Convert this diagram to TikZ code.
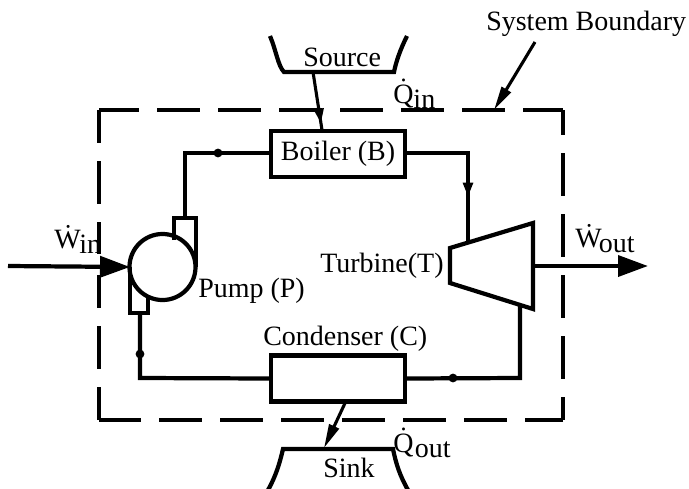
\documentclass[tikz,border=0pt]{standalone}
\usepackage{fontspec}
\setmainfont{Liberation Serif}
\usetikzlibrary{arrows.meta,decorations.markings}
\newcommand{\flowrate}[3][0pt]{\.{#2}\kern#1\raisebox{-4pt}{#3}}
\tikzset{
  pipe/.style={line width=3pt,line join=miter},
  unitbox/.style={draw,line width=3pt,minimum width=3.35cm,minimum height=1.15cm,inner sep=0pt},
  txt/.style={anchor=base west,inner sep=0pt},
  dotmark/.style={circle,fill=black,minimum size=0.22cm,inner sep=0pt},
  boundary/.style={line width=2.4pt,dash pattern=on 30.6pt off 12.8pt},
  thinline/.style={line width=2.2pt},
  bigtip/.style={-{Triangle[length=.75cm,width=.52cm]}},
  smalltip/.style={-{Triangle[length=.6cm,width=.26cm]}},
  midtip/.style={postaction=decorate,decoration={markings,mark=at position #1 with {\arrow{Triangle[length=.36cm,width=.24cm]}}}}
}
\begin{document}
\begin{tikzpicture}[x=0.025cm,y=-0.025cm,font=\fontsize{19.9}{22}\selectfont]
\useasboundingbox (0,0) rectangle (689,488);

% boundary
\coordinate (tl) at (99,110);
\coordinate (tr) at (563,110);
\coordinate (br) at (563,420);
\coordinate (bl) at (99,420);
\coordinate (lefta) at (99,254);
\coordinate (leftb) at (99,275);
\draw[boundary,dash phase=2.1pt] (tl) -- (tr);
\draw[boundary,dash phase=12.8pt] (tr) -- (br);
\draw[boundary,dash phase=3.5pt] (br) -- (bl);
\draw[boundary,dash phase=7pt] (tl) -- (lefta);
\draw[boundary,dash phase=7pt] (bl) -- (leftb);

% units
\node[unitbox] (boiler) at (338,154) {Boiler (B)};
\node[unitbox] (condenser) at (338,378.5) {};
\node[draw,circle,line width=3pt,minimum size=1.65cm,inner sep=0pt,fill=white] (pump) at (162.5,267) {};

% pump stubs
\coordinate (stuba) at (174,240);
\coordinate (stubb) at (174,218);
\coordinate (stubc) at (196,218);
\coordinate (stubd) at (196,267);
\coordinate (stube) at (130,267);
\coordinate (stubf) at (130,313);
\coordinate (stubg) at (148,313);
\coordinate (stubh) at (148,295);
\draw[pipe] (stuba) -- (stubb) -- (stubc) -- (stubd);
\draw[pipe] (stube) -- (stubf) -- (stubg) -- (stubh);

% turbine
\coordinate (ta) at (450,248);
\coordinate (tb) at (533,223);
\coordinate (tc) at (533,309);
\coordinate (td) at (450,283);
\draw[pipe] (ta) -- (tb) -- (tc) -- (td) -- cycle;

% cycle
\coordinate (pumpout) at (185,218);
\coordinate (pumpin) at (140,313);
\coordinate (turbin) at (468,242);
\coordinate (turbout) at (520,305);
\coordinate (corna) at (185,153);
\coordinate (cornb) at (468,153);
\coordinate (cornc) at (520,378);
\coordinate (cornd) at (140,378);
\node[dotmark] (dota) at (218,153) {};
\node[dotmark] (dotb) at (453,378) {};
\node[dotmark] (dotc) at (140,354) {};
\draw[pipe] (pumpout) -- (corna) -- (boiler.west |- corna);
\draw[pipe,midtip=.7] (boiler.east |- cornb) -- (cornb) -- (turbin);
\draw[pipe] (turbout) -- (cornc) -- (condenser.east);
\draw[pipe] (condenser.west) -- (cornd) -- (pumpin);

% work
\coordinate (winstart) at (8,266);
\coordinate (wout) at (533,266);
\coordinate (woutend) at (648,266);
\draw[pipe,bigtip] (winstart) -- (stube);
\draw[pipe,bigtip] (wout) -- (woutend);

% source and sink
\coordinate (sourcea) at (284,72);
\coordinate (sourceb) at (394,72);
\coordinate (sinka) at (283,449);
\coordinate (sinkb) at (393,449);
\draw[pipe] (270,36) .. controls (276,50) and (278,66) .. (sourcea) -- (sourceb) .. controls (396,62) and (400,50) .. (407,36);
\draw[pipe] (268,490) .. controls (276,476) and (280,462) .. (sinka) -- (sinkb) .. controls (396,464) and (400,476) .. (408,490);
\coordinate (qinstart) at (313,72);
\coordinate (qinend) at (322,130);
\coordinate (qoutstart) at (346,401);
\coordinate (qoutend) at (324,448);
\draw[thinline,midtip=.88] (qinstart) -- (qinend);
\draw[thinline,smalltip] (qoutstart) -- (qoutend);
\coordinate (sysstart) at (535,42);
\coordinate (sysend) at (494,110);
\draw[thinline,smalltip] (sysstart) -- (sysend);

% labels
\node[txt] (source) at (303,66) {Source};
\node[txt] (sink) at (323,477) {Sink};
\node[txt] (system) at (486,30) {System Boundary};
\node[txt] (pumplabel) at (198,297) {Pump (P)};
\node[txt] (turbinelabel) at (320,272) {Turbine(T)};
\node[txt] (condlabel) at (263,345) {Condenser (C)};
\node[txt] (qin) at (393,103) {\flowrate{Q}{in}};
\node[txt] (qout) at (393,452) {\flowrate[1pt]{Q}{out}};
\node[txt] (win) at (54,248) {\flowrate[-1pt]{W}{in}};
\node[txt] (woutlabel) at (575,247) {\flowrate[-2pt]{W}{out}};
\end{tikzpicture}
\end{document}
